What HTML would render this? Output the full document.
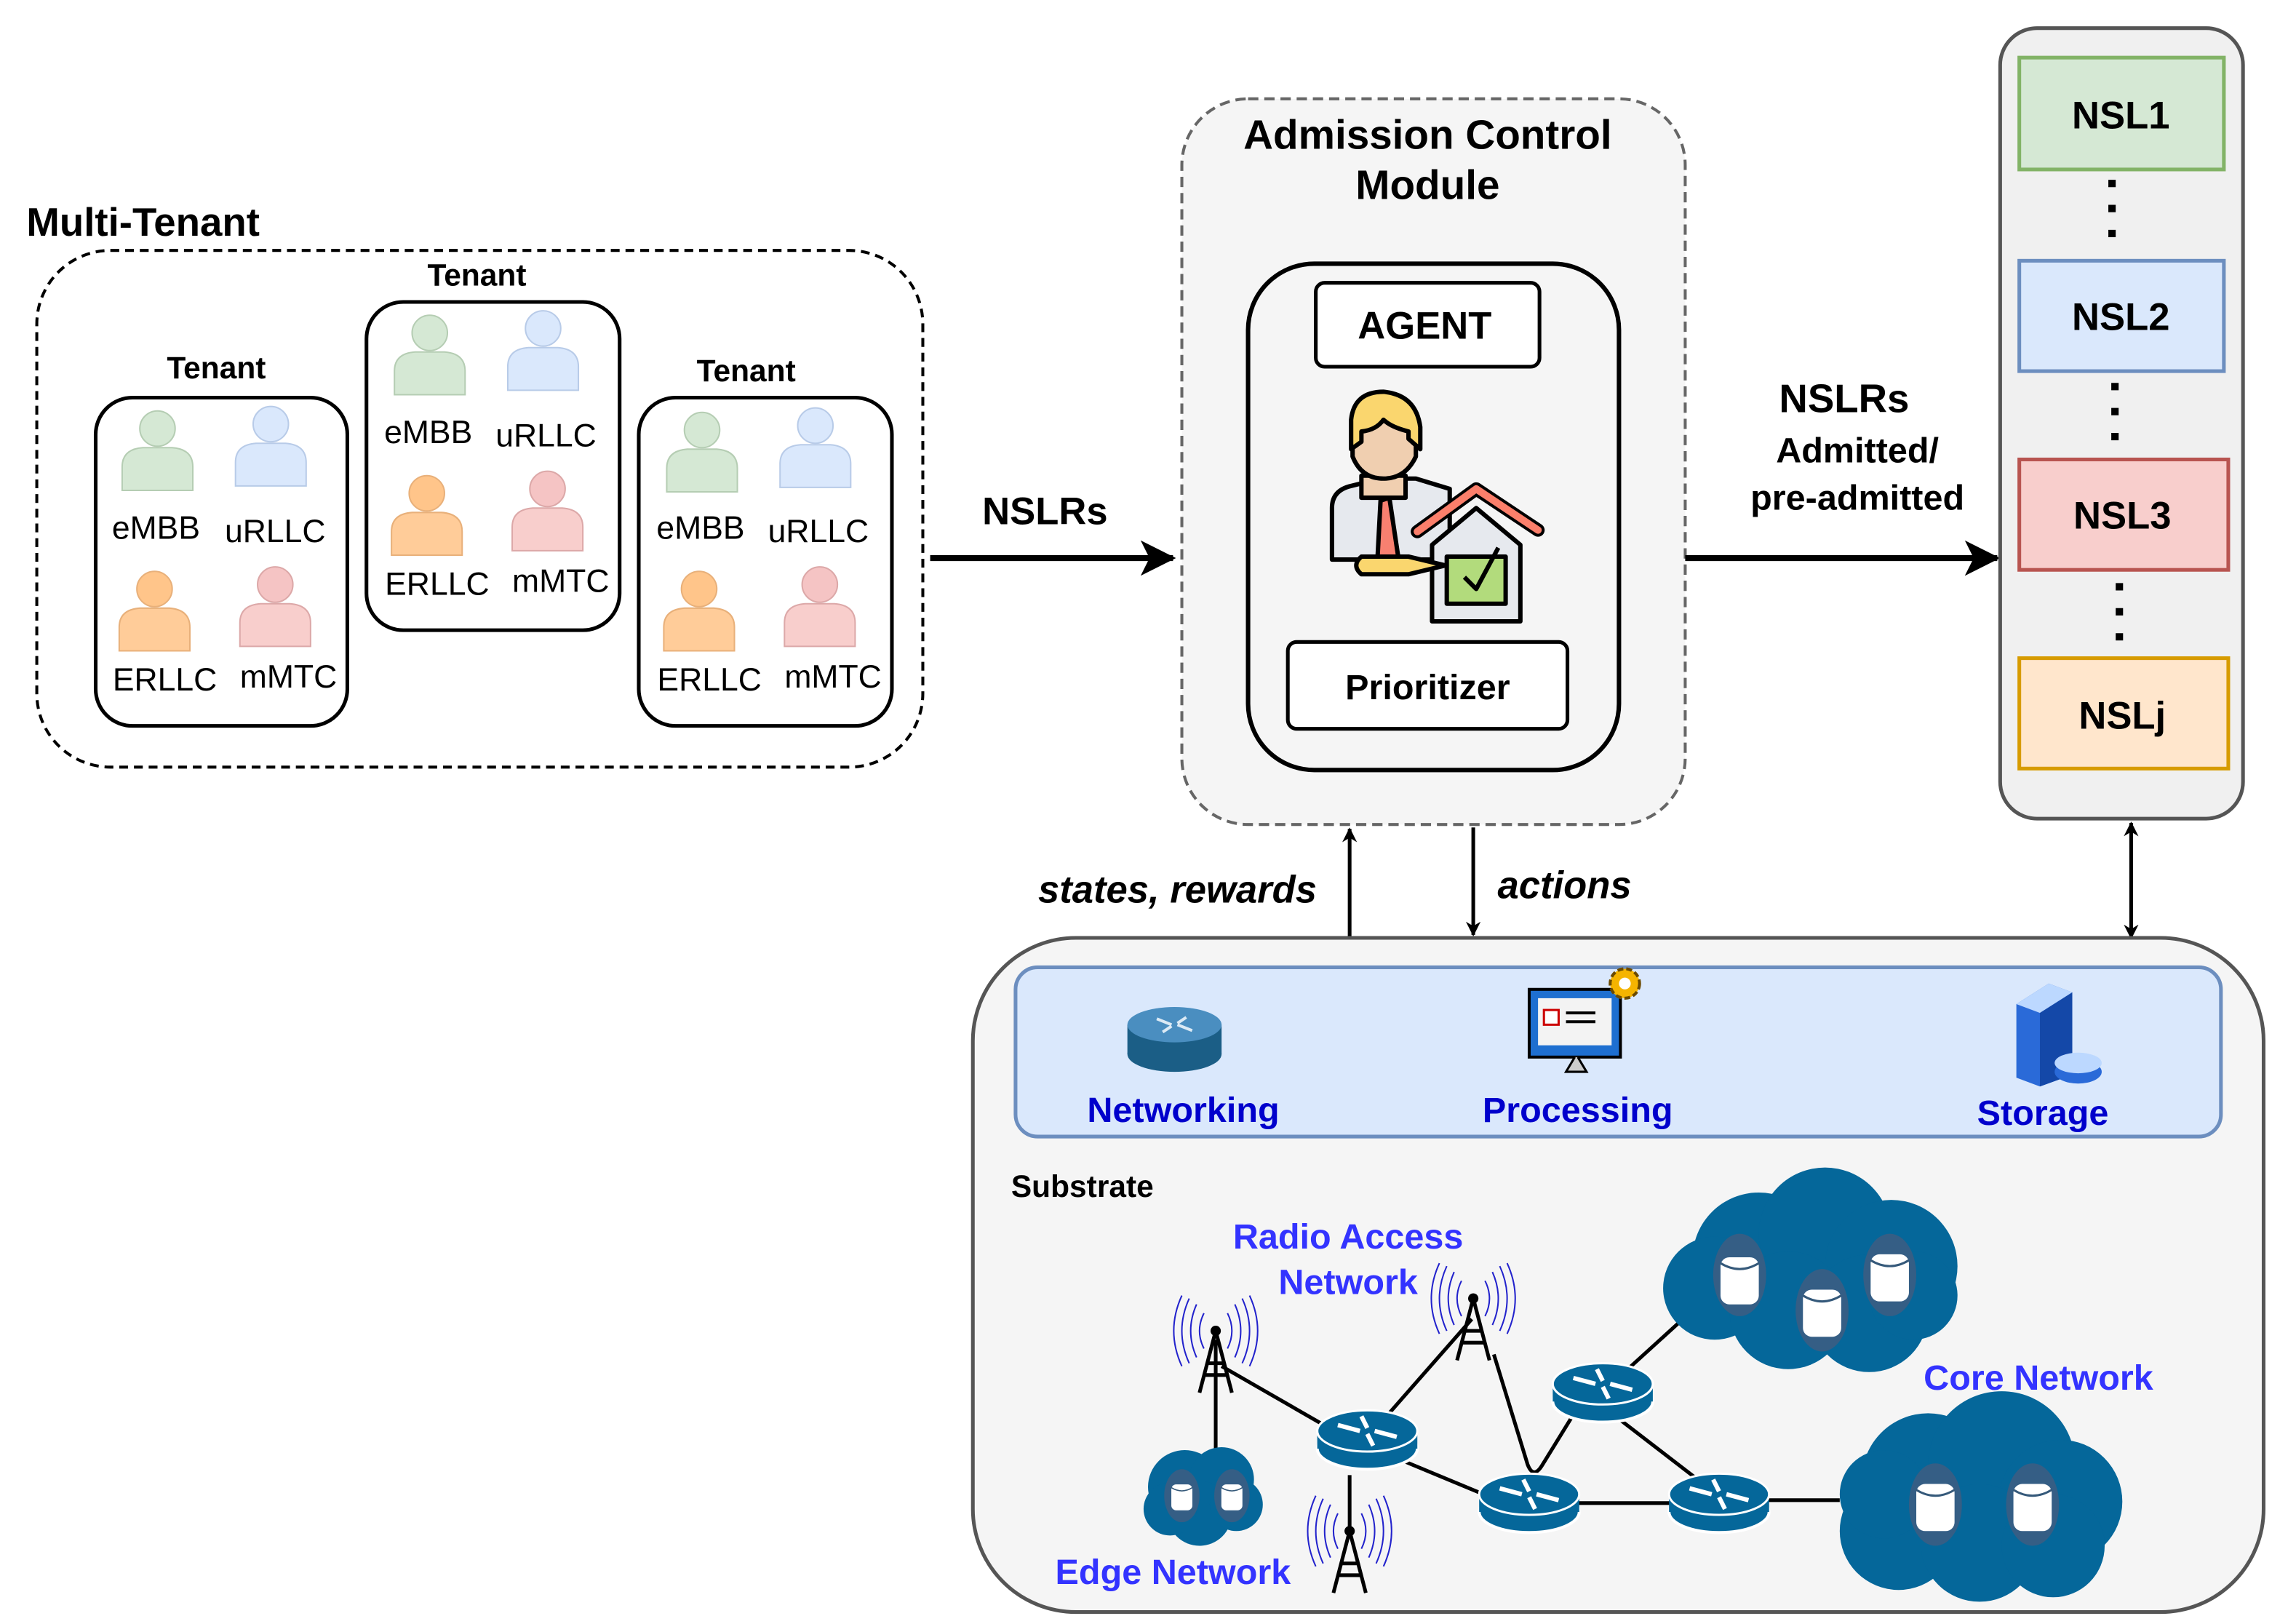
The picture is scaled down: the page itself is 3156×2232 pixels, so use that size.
<!DOCTYPE html>
<html><head><meta charset="utf-8"><style>
html,body{margin:0;padding:0;background:#fff;}
svg{display:block;}
text{font-family:"Liberation Sans",Arial,sans-serif;}
</style></head><body>
<svg width="3156" height="2232" viewBox="0 0 1560 1103" xmlns="http://www.w3.org/2000/svg">
<defs>
<marker id="ar" markerWidth="10" markerHeight="10" refX="9" refY="5" orient="auto" markerUnits="userSpaceOnUse"><path d="M0,0 L10,5 L0,10 L3,5 z" fill="#000"/></marker>
<marker id="arB" markerWidth="24" markerHeight="24" refX="22" refY="12" orient="auto" markerUnits="userSpaceOnUse"><path d="M0,0 L24,12 L0,24 L6,12 z" fill="#000"/></marker>
<g id="pG"><circle cx="0" cy="-14" r="12" fill="#d5e8d4" stroke="#b5cdb3"/><path d="M-24,28 L-24,12 Q-24,0 -10,-1 L10,-1 Q24,0 24,12 L24,28 Z" fill="#d5e8d4" stroke="#b5cdb3"/></g>
<g id="pB"><circle cx="0" cy="-14" r="12" fill="#dae8fc" stroke="#b8cbe8"/><path d="M-24,28 L-24,12 Q-24,0 -10,-1 L10,-1 Q24,0 24,12 L24,28 Z" fill="#dae8fc" stroke="#b8cbe8"/></g>
<g id="pO"><circle cx="0" cy="-14" r="12" fill="#ffc58a" stroke="#e8b07a"/><path d="M-24,28 L-24,12 Q-24,0 -10,-1 L10,-1 Q24,0 24,12 L24,28 Z" fill="#ffcc99" stroke="#e8b07a"/></g>
<g id="pP"><circle cx="0" cy="-14" r="12" fill="#f5c4c4" stroke="#dca8a8"/><path d="M-24,28 L-24,12 Q-24,0 -10,-1 L10,-1 Q24,0 24,12 L24,28 Z" fill="#f8cecc" stroke="#dca8a8"/></g>
<g id="rt"><ellipse cx="0" cy="12" rx="34" ry="14" fill="#05679a" stroke="#fff" stroke-width="2"/><rect x="-34" y="0" width="68" height="12" fill="#05679a"/><ellipse cx="0" cy="0" rx="34" ry="14" fill="#05679a" stroke="#fff" stroke-width="1.5"/><path d="M-20,-4 L-5,0 M20,4 L5,0 M-4,-10 L0,-2 M4,10 L0,2" stroke="#fff" stroke-width="3"/></g>
<g id="tw"><circle cx="0" cy="0" r="3.5" fill="#000"/><path d="M0,0 L-11,42 M0,0 L11,42 M-6,22 L6,22 M-8,30 L8,30" stroke="#000" stroke-width="2.5" fill="none"/><g fill="none" stroke="#2222cc" stroke-width="1"><path d="M-8,-12 Q-14,0 -8,12 M8,-12 Q14,0 8,12 M-13,-18 Q-21,0 -13,18 M13,-18 Q21,0 13,18 M-18,-22 Q-28,0 -18,22 M18,-22 Q28,0 18,22 M-23,-24 Q-34,0 -23,24 M23,-24 Q34,0 23,24"/></g></g>
<g id="cyl"><rect x="-13" y="-14" width="26" height="32" rx="6" fill="#fff"/><path d="M-13,-10 Q0,-2 13,-10" stroke="#35597a" fill="none" stroke-width="1.5"/></g>
</defs>

<!-- Multi tenant -->
<text x="18" y="160" font-size="27" font-weight="bold">Multi-Tenant</text>
<rect x="25" y="170" width="602" height="351" rx="50" fill="none" stroke="#000" stroke-width="2" stroke-dasharray="6,4"/>
<g font-size="21" font-weight="bold" text-anchor="middle">
<text x="147" y="257">Tenant</text><text x="324" y="194">Tenant</text><text x="507" y="259">Tenant</text></g>
<rect x="65" y="270" width="171" height="223" rx="25" fill="#fff" stroke="#000" stroke-width="2.5"/>
<rect x="249" y="205" width="172" height="223" rx="25" fill="#fff" stroke="#000" stroke-width="2.5"/>
<rect x="434" y="270" width="172" height="223" rx="25" fill="#fff" stroke="#000" stroke-width="2.5"/>
<use href="#pG" x="107" y="305"/><use href="#pB" x="184" y="302"/><use href="#pO" x="105" y="414"/><use href="#pP" x="187" y="411"/>
<use href="#pG" x="292" y="240"/><use href="#pB" x="369" y="237"/><use href="#pO" x="290" y="349"/><use href="#pP" x="372" y="346"/>
<use href="#pG" x="477" y="306"/><use href="#pB" x="554" y="303"/><use href="#pO" x="475" y="414"/><use href="#pP" x="557" y="411"/>
<g font-size="22" text-anchor="middle">
<text x="106" y="366">eMBB</text><text x="187" y="368">uRLLC</text><text x="112" y="469">ERLLC</text><text x="196" y="467">mMTC</text>
<text x="291" y="301">eMBB</text><text x="371" y="303">uRLLC</text><text x="297" y="404">ERLLC</text><text x="381" y="402">mMTC</text>
<text x="476" y="366">eMBB</text><text x="556" y="368">uRLLC</text><text x="482" y="469">ERLLC</text><text x="566" y="467">mMTC</text>
</g>

<!-- NSLRs arrow -->
<line x1="632" y1="379" x2="797" y2="379" stroke="#000" stroke-width="4" marker-end="url(#arB)"/>
<text x="710" y="356" font-size="26" font-weight="bold" text-anchor="middle">NSLRs</text>

<!-- ACM -->
<rect x="803" y="67" width="342" height="493" rx="45" fill="#f5f5f5" stroke="#666" stroke-width="2" stroke-dasharray="7,4"/>
<text x="970" y="101" font-size="28" font-weight="bold" text-anchor="middle">Admission Control</text>
<text x="970" y="135" font-size="28" font-weight="bold" text-anchor="middle">Module</text>
<rect x="848" y="179" width="252" height="344" rx="45" fill="#f5f5f5" stroke="#000" stroke-width="3"/>
<rect x="894" y="192" width="152" height="57" rx="6" fill="#fff" stroke="#000" stroke-width="2.5"/>
<text x="968" y="230" font-size="26" font-weight="bold" text-anchor="middle">AGENT</text>
<rect x="875" y="436" width="190" height="59" rx="6" fill="#fff" stroke="#000" stroke-width="2.5"/>
<text x="970" y="475" font-size="24" font-weight="bold" text-anchor="middle">Prioritizer</text>
<!-- agent icon -->
<g stroke="#000" stroke-width="3" stroke-linejoin="round">
<path d="M905,380 L905,345 Q905,333 918,330 L938,325 L962,325 L985,332 L985,380 Z" fill="#e6e9ee"/>
<path d="M925,323 L955,323 L955,338 L925,338 Z" fill="#f0cfb0"/>
<path d="M938,340 L944,338 L950,378 L936,378 Z" fill="#f88070"/>
<path d="M919,292 Q918,270 940,267 Q960,268 962,290 L962,310 Q955,325 940,325 Q925,325 919,310 Z" fill="#f0cfb0"/>
<path d="M918,305 L918,285 Q920,266 940,266 Q962,268 965,290 L965,305 L957,298 L957,293 Q945,290 940,285 Q935,292 925,293 L925,300 Z" fill="#fad66e"/>
<path d="M973,422 L973,370 L1003,345 L1033,370 L1033,422 Z" fill="#e6e9ee"/>
<path d="M963,361 L1003,332 L1045,360" fill="none" stroke="#000" stroke-width="9" stroke-linecap="round"/>
<path d="M963,361 L1003,332 L1045,360" fill="none" stroke="#fb7f6b" stroke-width="5" stroke-linecap="round"/>
<rect x="983" y="378" width="40" height="32" fill="#b2db7c"/>
<path d="M995,392 L1003,400 L1018,372" fill="none"/>
<path d="M925,378 L957,378 L982,384 L957,390 L925,390 Q918,384 925,378 Z" fill="#fad66e"/>
</g>

<!-- right arrow -->
<line x1="1145" y1="379" x2="1357" y2="379" stroke="#000" stroke-width="4" marker-end="url(#arB)"/>
<g font-weight="bold" text-anchor="middle"><text x="1253" y="280" font-size="27">NSLRs</text>
<text x="1262" y="314" font-size="24">Admitted/</text><text x="1262" y="346" font-size="24">pre-admitted</text></g>

<!-- NSL column -->
<rect x="1359" y="19" width="165" height="537" rx="25" fill="#f0f0f0" stroke="#555" stroke-width="2.5"/>
<rect x="1372" y="39" width="139" height="76" fill="#d5e8d4" stroke="#82b366" stroke-width="2.5"/>
<rect x="1372" y="177" width="139" height="75" fill="#dae8fc" stroke="#6c8ebf" stroke-width="2.5"/>
<rect x="1372" y="312" width="142" height="75" fill="#f8cecc" stroke="#b85450" stroke-width="2.5"/>
<rect x="1372" y="447" width="142" height="75" fill="#ffe6cc" stroke="#d79b00" stroke-width="2.5"/>
<g font-size="26" font-weight="bold" text-anchor="middle">
<text x="1441" y="87">NSL1</text><text x="1441" y="224">NSL2</text><text x="1442" y="359">NSL3</text><text x="1442" y="495">NSLj</text></g>
<g stroke="#000" stroke-width="5" stroke-dasharray="5,12">
<line x1="1435" y1="122" x2="1435" y2="165"/><line x1="1437" y1="260" x2="1437" y2="303"/><line x1="1440" y1="396" x2="1440" y2="439"/></g>

<!-- vertical arrows -->
<line x1="917" y1="636" x2="917" y2="563" stroke="#000" stroke-width="2.5" marker-end="url(#ar)"/>
<line x1="1001" y1="562" x2="1001" y2="635" stroke="#000" stroke-width="2.5" marker-end="url(#ar)"/>
<line x1="1448" y1="597" x2="1448" y2="559" stroke="#000" stroke-width="2.5" marker-end="url(#ar)"/>
<line x1="1448" y1="597" x2="1448" y2="637" stroke="#000" stroke-width="2.5" marker-end="url(#ar)"/>
<text x="800" y="613" font-size="26" font-weight="bold" font-style="italic" text-anchor="middle">states, rewards</text>
<text x="1063" y="610" font-size="26" font-weight="bold" font-style="italic" text-anchor="middle">actions</text>

<!-- Substrate -->
<rect x="661" y="637" width="877" height="458" rx="70" fill="#f5f5f5" stroke="#555" stroke-width="2.5"/>
<rect x="690" y="657" width="819" height="115" rx="15" fill="#dae8fc" stroke="#6c8ebf" stroke-width="2.5"/>
<g font-size="24" font-weight="bold" fill="#0000cc" text-anchor="middle">
<text x="804" y="762">Networking</text><text x="1072" y="762">Processing</text><text x="1388" y="764">Storage</text></g>
<!-- networking icon -->
<ellipse cx="798" cy="716" rx="32" ry="12" fill="#1b5e86"/><rect x="766" y="696" width="64" height="20" fill="#1b5e86"/><ellipse cx="798" cy="696" rx="32" ry="12" fill="#4a8ec0"/>
<path d="M786,692 L796,696 M810,700 L800,696 M790,701 L796,697 M806,691 L800,695" stroke="#dbeaf5" stroke-width="2"/>
<!-- processing icon -->
<rect x="1039" y="672" width="62" height="46" fill="#1e6fd0" stroke="#000" stroke-width="2"/>
<rect x="1045" y="678" width="50" height="32" fill="#f3f3f3"/>
<rect x="1049" y="686" width="10" height="10" fill="#fff" stroke="#c00" stroke-width="1.5"/>
<path d="M1064,688 L1084,688 M1064,694 L1084,694" stroke="#000" stroke-width="2"/>
<path d="M1070,718 L1064,728 L1078,728 L1072,718" fill="#ccc" stroke="#000" stroke-width="1.5"/>
<circle cx="1104" cy="668" r="10" fill="#f5b400" stroke="#6b4a00" stroke-width="2" stroke-dasharray="4,2"/><circle cx="1104" cy="668" r="4" fill="#fff"/>
<!-- storage icon -->
<path d="M1370,682 L1392,668 L1408,674 L1408,730 L1386,738 L1370,732 Z" fill="#2a6ad8"/>
<path d="M1370,682 L1392,668 L1408,674 L1386,688 Z" fill="#bcd8ff"/>
<path d="M1386,688 L1386,738 L1408,730 L1408,674 Z" fill="#1448a8"/>
<ellipse cx="1412" cy="728" rx="16" ry="8" fill="#2a6ad8"/><ellipse cx="1412" cy="722" rx="16" ry="7" fill="#bcd8ff"/>
<text x="687" y="813" font-size="21" font-weight="bold">Substrate</text>
<g font-size="24" font-weight="bold" fill="#3333ff" text-anchor="middle">
<text x="916" y="848">Radio Access</text><text x="916" y="879">Network</text>
<text x="1385" y="944">Core Network</text><text x="797" y="1076">Edge Network</text></g>

<!-- links -->
<g stroke="#000" stroke-width="2.5" fill="none">
<line x1="826" y1="910" x2="826" y2="990"/>
<line x1="830" y1="928" x2="910" y2="974"/>
<line x1="928" y1="978" x2="1000" y2="896"/>
<path d="M1015,920 L1038,995 Q1042,1005 1048,995 L1072,956"/>
<line x1="955" y1="993" x2="1020" y2="1020"/>
<line x1="1040" y1="1021" x2="1168" y2="1021"/>
<line x1="1095" y1="960" x2="1160" y2="1010"/>
<line x1="1095" y1="940" x2="1150" y2="890"/>
<line x1="1195" y1="1019" x2="1250" y2="1019"/>
<line x1="917" y1="1002" x2="917" y2="1040"/>
</g>

<!-- clouds -->
<g fill="#05679a">
<circle cx="1195" cy="855" r="45"/><circle cx="1240" cy="838" r="45"/><circle cx="1285" cy="860" r="45"/><circle cx="1165" cy="875" r="35"/><circle cx="1215" cy="890" r="40"/><circle cx="1270" cy="892" r="40"/><circle cx="1300" cy="880" r="30"/>
<circle cx="1310" cy="1005" r="45"/><circle cx="1360" cy="995" r="50"/><circle cx="1400" cy="1020" r="42"/><circle cx="1290" cy="1040" r="40"/><circle cx="1345" cy="1048" r="40"/><circle cx="1395" cy="1050" r="35"/><circle cx="1280" cy="1015" r="30"/>
<circle cx="805" cy="1010" r="25"/><circle cx="830" cy="1005" r="22"/><circle cx="815" cy="1028" r="22"/><circle cx="840" cy="1022" r="18"/><circle cx="795" cy="1025" r="18"/>
</g>
<g fill="#355e85">
<ellipse cx="1182" cy="866" rx="18" ry="28"/><ellipse cx="1238" cy="890" rx="18" ry="28"/><ellipse cx="1284" cy="866" rx="18" ry="28"/>
<ellipse cx="1315" cy="1022" rx="18" ry="28"/><ellipse cx="1381" cy="1022" rx="18" ry="28"/>
<ellipse cx="803" cy="1016" rx="12" ry="18"/><ellipse cx="837" cy="1016" rx="12" ry="18"/>
</g>
<use href="#cyl" x="1182" y="868"/><use href="#cyl" x="1238" y="890"/><use href="#cyl" x="1284" y="866"/>
<use href="#cyl" x="1315" y="1022"/><use href="#cyl" x="1381" y="1022"/>
<g transform="translate(803,1016) scale(0.55)"><use href="#cyl"/></g>
<g transform="translate(837,1016) scale(0.55)"><use href="#cyl"/></g>

<!-- routers -->
<use href="#rt" x="929" y="972"/><use href="#rt" x="1089" y="940"/><use href="#rt" x="1039" y="1015"/><use href="#rt" x="1168" y="1015"/>
<!-- towers -->
<use href="#tw" x="826" y="904"/><use href="#tw" x="1001" y="882"/><use href="#tw" x="917" y="1040"/>
</svg>
</body></html>
